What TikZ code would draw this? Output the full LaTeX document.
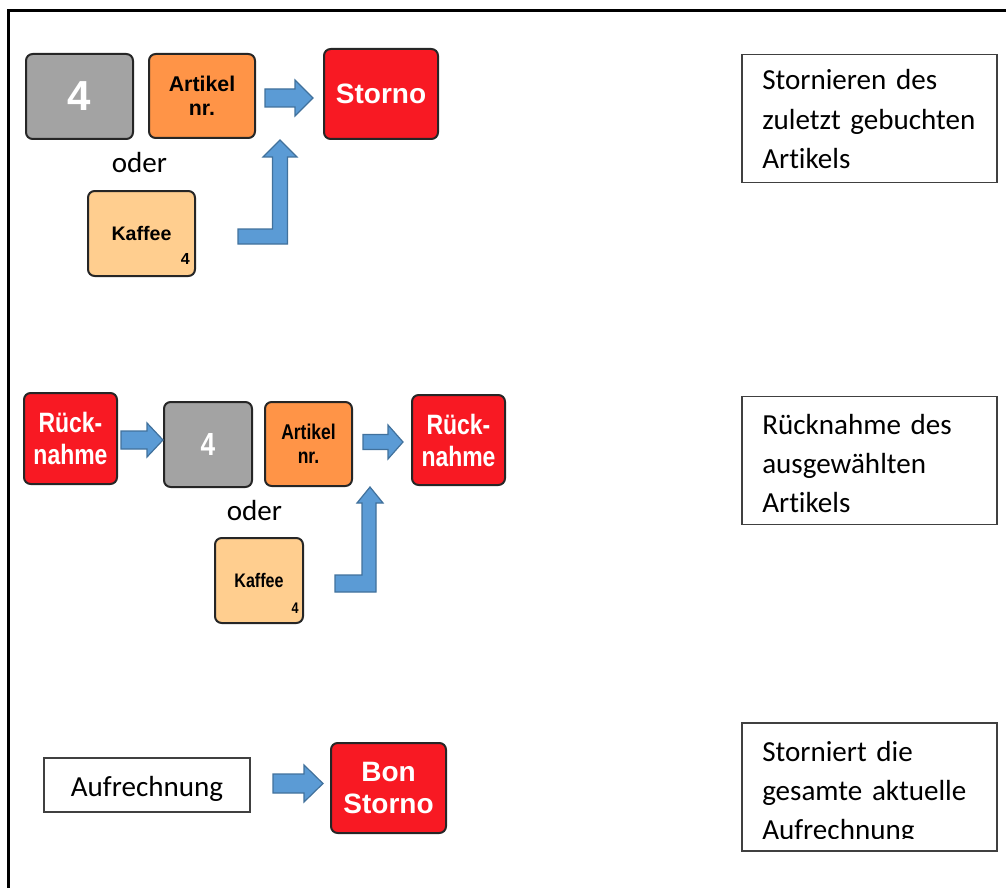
\documentclass[tikz,border=0pt]{standalone}
\usepackage{fontspec}
\setmainfont{Carlito}[Ligatures=NoCommon]
\newfontfamily\keyfont{Liberation Sans}
\usepackage{graphicx}

\definecolor{keygray}{HTML}{A3A3A3}
\definecolor{keyorange}{HTML}{FF9447}
\definecolor{keylight}{HTML}{FFCE8F}
\definecolor{keyred}{HTML}{F81923}
\definecolor{keyline}{HTML}{262626}
\definecolor{arrowblue}{HTML}{5B9BD5}
\definecolor{arrowline}{HTML}{41719C}
\definecolor{boxline}{HTML}{404040}

% keys of the second row are narrower
\newcommand{\squash}[1]{\scalebox{0.82}[1]{#1}}

\tikzset{
  keysize/.style 2 args={minimum width=#1*0.75pt, minimum height=#2*0.75pt},
  key/.style={draw=keyline, line width=1.5pt, rounded corners=5pt, inner sep=0pt, align=center},
  graykey/.style={key, fill=keygray, text=white, font=\keyfont\bfseries\fontsize{31.5}{31.5}\selectfont},
  artkey/.style={key, fill=keyorange, font=\keyfont\bfseries\fontsize{16}{18}\selectfont},
  redkey/.style={key, fill=keyred, text=white, font=\keyfont\bfseries\fontsize{21}{24}\selectfont},
  kaffeekey/.style={key, fill=keylight, font=\keyfont\bfseries\fontsize{14.7}{16}\selectfont},
  small4/.style={anchor=base east, inner sep=0pt, font=\keyfont\bfseries\fontsize{12}{12}\selectfont},
  blockarrow/.style={fill=arrowblue, draw=arrowline, line width=0.9pt},
  descbox/.style={draw=boxline, line width=0.9pt, minimum width=191.25pt, minimum height=96pt, inner sep=0pt},
  desctext/.style={anchor=base west, inner sep=0pt, text width=175pt, align=left, font=\fontsize{21.8}{29.4}\selectfont},
  plain/.style={inner sep=0pt, font=\fontsize{21.8}{26}\selectfont},
  aufbox/.style={plain, draw=boxline, line width=1pt, minimum width=154.5pt, minimum height=40.5pt, text height=20pt, text depth=2.25pt}
}

\begin{document}
\begin{tikzpicture}[x=0.75pt, y=-0.75pt]
\useasboundingbox (0,0) rectangle (1006,888);

% frame
\draw[line width=2pt] (8.3,888) -- (8.3,10.5) -- (1006,10.5);

% Storno
\node[graykey, keysize={107}{85}] (n4a) at (79.5,96.5) {4};
\node[artkey, keysize={106}{84}] (art1) at (202,96) {Artikel\\nr.};
\node[redkey, keysize={114}{90}] (sto1) at (381,94) {Storno};
\node[plain, anchor=base] (oder1) at (139.5,172) {oder};
\node[kaffeekey, keysize={107}{85}] (kaf1) at (141.5,233.5) {Kaffee};
\node[small4] (kaf1n) at ([shift={(-6,-13)}]kaf1.south east) {4};
\draw[blockarrow] (265,89) -- (295,89) -- (295,80) -- (313,98) -- (295,116) -- (295,107) -- (265,107) -- cycle;
\draw[blockarrow] (238,229) -- (272.5,229) -- (272.5,157) -- (263,157) -- (280,140) -- (297,157) -- (287.5,157) -- (287.5,244) -- (238,244) -- cycle;

\node[descbox] (d1) at (869.5,118.5) {};
\node[desctext] (d1t) at (762,90) {Stornieren des\\zuletzt gebuchten\\Artikels};

% Ruecknahme
\node[redkey, keysize={93}{91}] (rk1) at (70.5,438.5) {\squash{Rück-}\\\squash{nahme}};
\node[graykey, keysize={88}{85}, font=\keyfont\bfseries\fontsize{24}{24}\selectfont] (n4b) at (208,444.5) {\squash{4}};
\node[artkey, keysize={87}{84}] (art2) at (308.5,444) {\squash{Artikel}\\\squash{nr.}};
\node[redkey, keysize={93}{90}] (rk2) at (458.5,440) {\squash{Rück-}\\\squash{nahme}};
\node[plain, anchor=base] (oder2) at (254.5,520) {oder};
\node[kaffeekey, keysize={88}{85}] (kaf2) at (259,580.5) {\squash{Kaffee}};
\node[small4, font=\keyfont\bfseries\fontsize{11.5}{11.5}\selectfont] (kaf2n) at ([shift={(-5,-11)}]kaf2.south east) {\squash{4}};
\draw[blockarrow] (121,431) -- (147,431) -- (147,423) -- (163,440) -- (147,457) -- (147,449) -- (121,449) -- cycle;
\draw[blockarrow] (363,434.5) -- (388,434.5) -- (388,425) -- (403,442) -- (388,459) -- (388,449.5) -- (363,449.5) -- cycle;
\draw[blockarrow] (335,575) -- (362,575) -- (362,503) -- (357,503) -- (370,487) -- (383,503) -- (376,503) -- (376,592) -- (335,592) -- cycle;

\node[descbox] (d2) at (869.5,460.5) {};
\node[desctext] (d2t) at (762,434) {Rücknahme des\\ausgewählten\\Artikels};

% Bon Storno
\node[aufbox] (auf) at (147,785) {Aufrechnung};
\node[redkey, keysize={115}{90}] (bon) at (388.5,788) {Bon\\Storno};
\draw[blockarrow] (273,774) -- (304,774) -- (304,765) -- (323,783.5) -- (304,802) -- (304,793) -- (273,793) -- cycle;

\node[descbox] (d3) at (869.5,787) {};
\begin{scope}
  \clip (742,723) rectangle (997,838);
  \node[desctext] (d3t) at (762,761) {Storniert die\\gesamte aktuelle\\Aufrechnung};
\end{scope}
\end{tikzpicture}
\end{document}
